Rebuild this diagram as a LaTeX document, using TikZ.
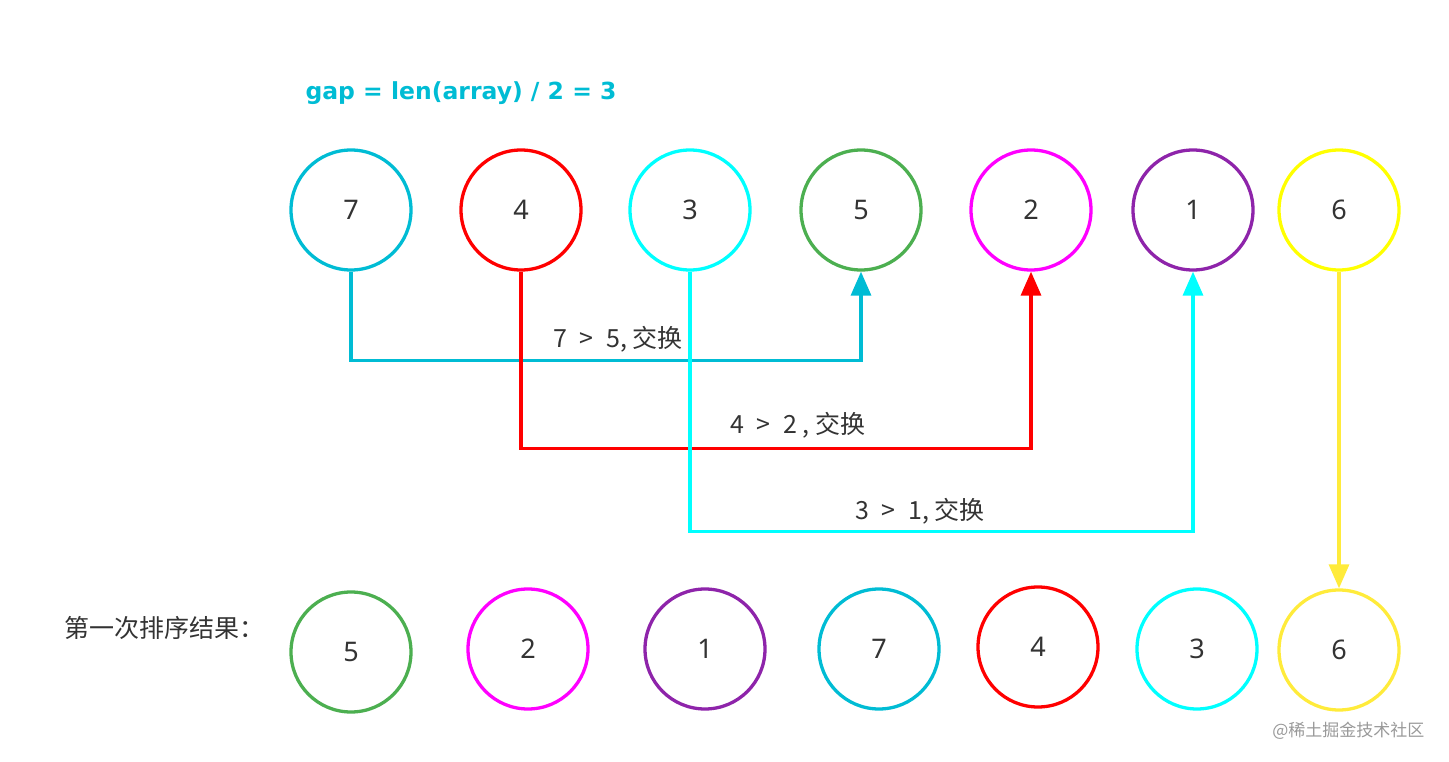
\documentclass[tikz,border=0pt]{standalone}
\usepackage{fontspec}
\setmainfont{Noto Sans}
\newfontfamily\cjk{Noto Sans CJK SC}
\newfontfamily\gapfont{DejaVu Sans}
\usetikzlibrary{arrows.meta}
\definecolor{cA}{HTML}{00BCD4}
\definecolor{cR}{HTML}{FF0000}
\definecolor{cC}{HTML}{00FFFF}
\definecolor{cG}{HTML}{4CAF50}
\definecolor{cM}{HTML}{FF00FF}
\definecolor{cP}{HTML}{8E24AA}
\definecolor{cY}{HTML}{FFFF00}
\definecolor{cY2}{HTML}{FFEB3B}
\definecolor{txt}{HTML}{333333}
\newcommand\lowd[1]{\raisebox{-4pt}{#1}}
\tikzset{
  ball/.style={circle, draw=#1, line width=3.3pt, minimum size=120pt, inner sep=0pt,
    font=\fontsize{27}{29}\selectfont, text=txt},
  conn/.style={draw=#1, line width=3.3pt, -{Triangle[length=24pt,width=20pt]}},
  lab/.style={font=\cjk\fontsize{25}{27}\selectfont, text=txt, inner sep=1pt}
}
\begin{document}
\begin{tikzpicture}[x=1pt,y=-1pt]
\useasboundingbox (0,0) rectangle (1449,762);
\node[font=\gapfont\bfseries\fontsize{23.5}{26}\selectfont, text=cA, anchor=west] (gap) at (302,93) {gap = len(array) / 2 = 3};
% top row
\node[ball=cA] (t7) at (351,210) {\lowd{7}};
\node[ball=cR] (t4) at (521,210) {\lowd{4}};
\node[ball=cC] (t3) at (690,210) {\lowd{3}};
\node[ball=cG] (t5) at (861,210) {\lowd{5}};
\node[ball=cM] (t2) at (1031,210) {\lowd{2}};
\node[ball=cP] (t1) at (1193,210) {\lowd{1}};
\node[ball=cY] (t6) at (1339,210) {\lowd{6}};
% bottom row
\node[ball=cG] (b5) at (351,652) {\lowd{5}};
\node[ball=cM] (b2) at (528,649) {\lowd{2}};
\node[ball=cP] (b1) at (705,649) {\lowd{1}};
\node[ball=cA] (b7) at (879,649) {\lowd{7}};
\node[ball=cR] (b4) at (1038,647) {\lowd{4}};
\node[ball=cC] (b3) at (1197,649) {\lowd{3}};
\node[ball=cY2] (b6) at (1339,650) {\lowd{6}};
% connectors
\draw[conn=cA] (t7.south) -- ++(0,89) -| (t5.south);
\draw[conn=cR] (t4.south) -- ++(0,177) -| (t2.south);
\draw[conn=cC] (t3.south) -- ++(0,260) -| (t1.south);
\draw[conn=cY2] (t6.south) -- (b6.north);
% labels
\node[lab] (l1) at (618,339) {7\enspace>\enspace5, 交换};
\node[lab] (l2) at (798,425) {4\enspace>\enspace2 , 交换};
\node[lab] (l3) at (920,511) {3\enspace>\enspace1, 交换};
\node[lab, anchor=west] (res) at (63,628) {第一次排序结果：};
\node[font=\cjk\fontsize{17}{19}\selectfont, text=black!40, anchor=east] (wm) at (1428,731) {@稀土掘金技术社区};
\end{tikzpicture}
\end{document}
